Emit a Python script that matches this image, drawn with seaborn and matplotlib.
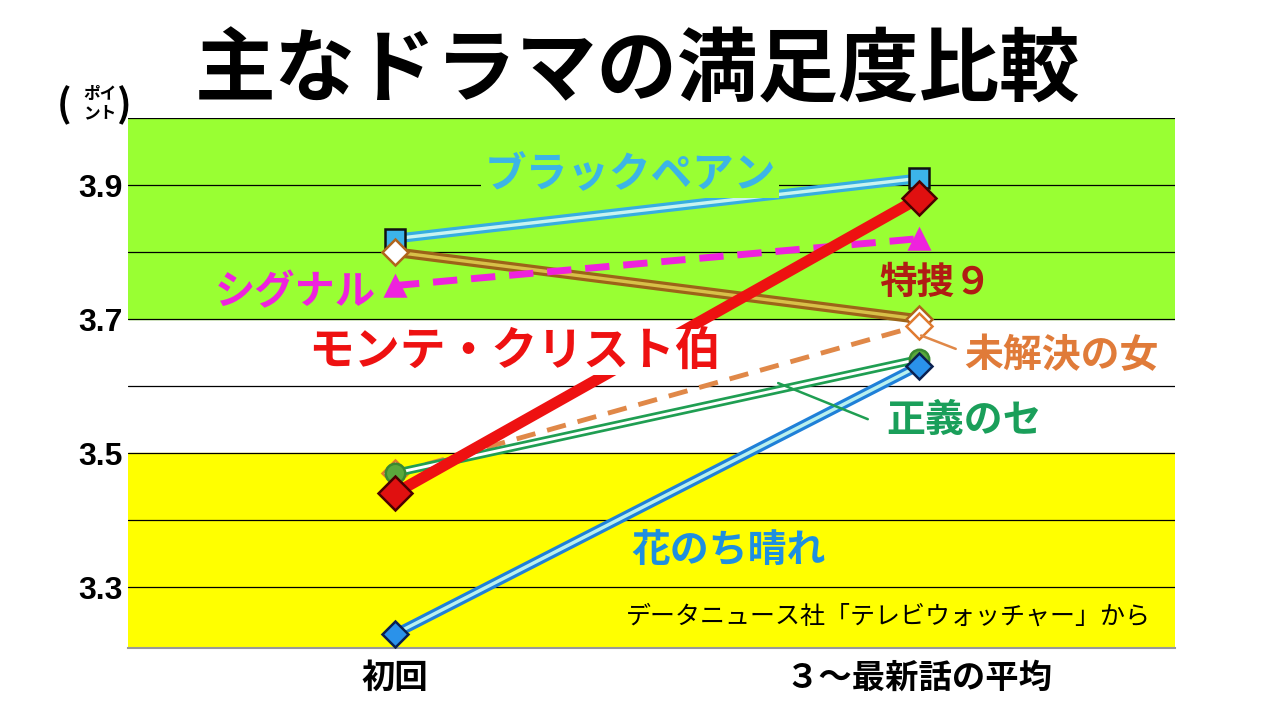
import pandas as pd
import numpy as np
import matplotlib
matplotlib.use("Agg")
import matplotlib.pyplot as plt
import matplotlib.patheffects as pe
import seaborn as sns

# data
episodes = ["初回", "３～最新話の平均"]
black_pean = [3.82, 3.91]
monte_cristo = [3.44, 3.88]
tokuso9 = [3.80, 3.70]
signal = [3.75, 3.82]
mikaiketsu = [3.47, 3.69]
seigi = [3.47, 3.64]
hana = [3.23, 3.63]

dramas = {
    "ブラックペアン": black_pean,
    "特捜9": tokuso9,
    "未解決の女": mikaiketsu,
    "正義のセ": seigi,
    "花のち晴れ": hana,
    "シグナル": signal,
    "モンテ・クリスト伯": monte_cristo,
}

rows = []
for name, vals in dramas.items():
    for i, (ep, v) in enumerate(zip(episodes, vals)):
        rows.append({"drama": name, "episode": ep, "pos": i, "score": v})
df = pd.DataFrame(rows)

sns.set_theme(style="white")
plt.rcParams['font.family'] = ['Noto Sans CJK JP', 'DejaVu Sans']
plt.rcParams['text.color'] = 'black'
plt.rcParams['xtick.color'] = 'black'
plt.rcParams['ytick.color'] = 'black'

fig = plt.figure(figsize=(12.8, 7.2), dpi=100)
ax = fig.add_axes([0.1, 0.1, 0.818, 0.736])
ax.set_xlim(-0.51, 1.49)
ax.set_ylim(3.209, 4.0)

# background bands
ax.axhspan(3.7, 4.0, color="#99ff33", zorder=0)
ax.axhspan(3.209, 3.5, color="#ffff00", zorder=0)
for g in np.arange(3.3, 4.01, 0.1):
    ax.axhline(g, color="black", lw=0.9, zorder=1)

# style per drama: outer colour, inner colour (None = single line), width, dash, marker
styles = {
    "ブラックペアン": dict(outer="#36aee0", inner="#c8f4f0", lw=7, ls="-",
                    marker="s", ms=15, mfc="#3cb4ea", mec="#111111"),
    "特捜9": dict(outer="#9c6418", inner="#d8c048", lw=7, ls="-",
                marker="D", ms=13, mfc="white", mec="#b0641c"),
    "未解決の女": dict(outer="#e08848", inner=None, lw=3.5, ls=(0, (4, 2.5)),
                  marker="D", ms=13, mfc="white", mec="#e07a30"),
    "正義のセ": dict(outer="#1f9e52", inner="white", lw=6, ls="-",
                 marker="o", ms=14, mfc="#5aa83c", mec="#3a8a30"),
    "花のち晴れ": dict(outer="#1f80d8", inner="#b8f0ee", lw=7, ls="-",
                  marker="D", ms=13, mfc="#2a92ea", mec="#0a2050"),
    "シグナル": dict(outer="#ee22dd", inner=None, lw=5, ls=(0, (3.5, 2)),
                 marker="^", ms=15, mfc="#ee22dd", mec="#ee22dd"),
    "モンテ・クリスト伯": dict(outer="#ee1111", inner=None, lw=8, ls="-",
                      marker="D", ms=17, mfc="#e01010", mec="#4a0000"),
}

z = 3
for name in dramas:
    st = styles[name]
    sub = df[df["drama"] == name]
    if st["inner"] is None:
        sns.lineplot(data=sub, x="pos", y="score", ax=ax, color=st["outer"],
                     lw=st["lw"], linestyle=st["ls"], zorder=z, legend=False)
    else:
        sns.lineplot(data=sub, x="pos", y="score", ax=ax, color=st["inner"],
                     lw=st["lw"] * 0.35, zorder=z, legend=False,
                     path_effects=[pe.Stroke(linewidth=st["lw"], foreground=st["outer"]),
                                   pe.Normal()])
    ax.plot(sub["pos"], sub["score"], linestyle="none", marker=st["marker"],
            ms=st["ms"], mfc=st["mfc"], mec=st["mec"], mew=1.8, zorder=z + 0.5)
    z += 1

# labels on the lines
bold = dict(fontweight="bold", ha="center", va="center", zorder=20)
ax.text(0.449, 3.917, "ブラックペアン", color="#3cb4e6", fontsize=30,
        bbox=dict(facecolor="#99ff33", edgecolor="none", pad=2), **bold)
ax.text(-0.19, 3.740, "シグナル", color="#ee22dd", fontsize=29, **bold)
ax.text(0.229, 3.651, "モンテ・クリスト伯", color="#ee1111", fontsize=33,
        bbox=dict(facecolor="white", edgecolor="none", pad=0), **bold)
ax.text(1.032, 3.755, "特捜９", color="#b01c14", fontsize=27, **bold)
ax.text(1.272, 3.646, "未解決の女", color="#e07b39", fontsize=28, **bold)
ax.text(1.087, 3.549, "正義のセ", color="#1a9f5a", fontsize=28, **bold)
ax.text(0.637, 3.355, "花のち晴れ", color="#1e8fe0", fontsize=28, **bold)
ax.text(0.943, 3.255, "データニュース社「テレビウォッチャー」から", color="black",
        fontsize=18, ha="center", va="center", zorder=20)

# leader lines
ax.annotate("", xy=(1.0, 3.677), xytext=(1.076, 3.654),
            arrowprops=dict(arrowstyle="-", color="#e08848", lw=1.8), zorder=19)
ax.annotate("", xy=(0.727, 3.606), xytext=(0.908, 3.549),
            arrowprops=dict(arrowstyle="-", color="#1f9e52", lw=1.8), zorder=19)

# axes
ax.set_xticks(range(len(episodes)))
ax.set_xticklabels(episodes, fontsize=24, fontweight="bold")
ax.set_yticks([3.3, 3.5, 3.7, 3.9])
ax.set_yticklabels(["3.3", "3.5", "3.7", "3.9"], fontsize=23, fontweight="bold",
                   family="Liberation Sans")
ax.tick_params(axis="both", length=0, pad=4)
ax.tick_params(axis="x", pad=10)
ax.set_xlabel("")
ax.set_ylabel("")
for s in ["top", "left", "right"]:
    ax.spines[s].set_visible(False)
ax.spines["bottom"].set_color("#999999")
ax.spines["bottom"].set_linewidth(1.5)

# title and unit
fig.text(0.498, 0.9, "主なドラマの満足度比較", fontsize=58, fontweight="bold",
         ha="center", va="center")
fig.text(0.050, 0.853, "(", fontsize=28, fontweight="bold", ha="center", va="center")
fig.text(0.078, 0.870, "ポイ", fontsize=12, fontweight="bold", ha="center", va="center")
fig.text(0.078, 0.843, "ント", fontsize=12, fontweight="bold", ha="center", va="center")
fig.text(0.097, 0.853, ")", fontsize=28, fontweight="bold", ha="center", va="center")

fig.savefig("out.png", dpi=100, facecolor="white")
